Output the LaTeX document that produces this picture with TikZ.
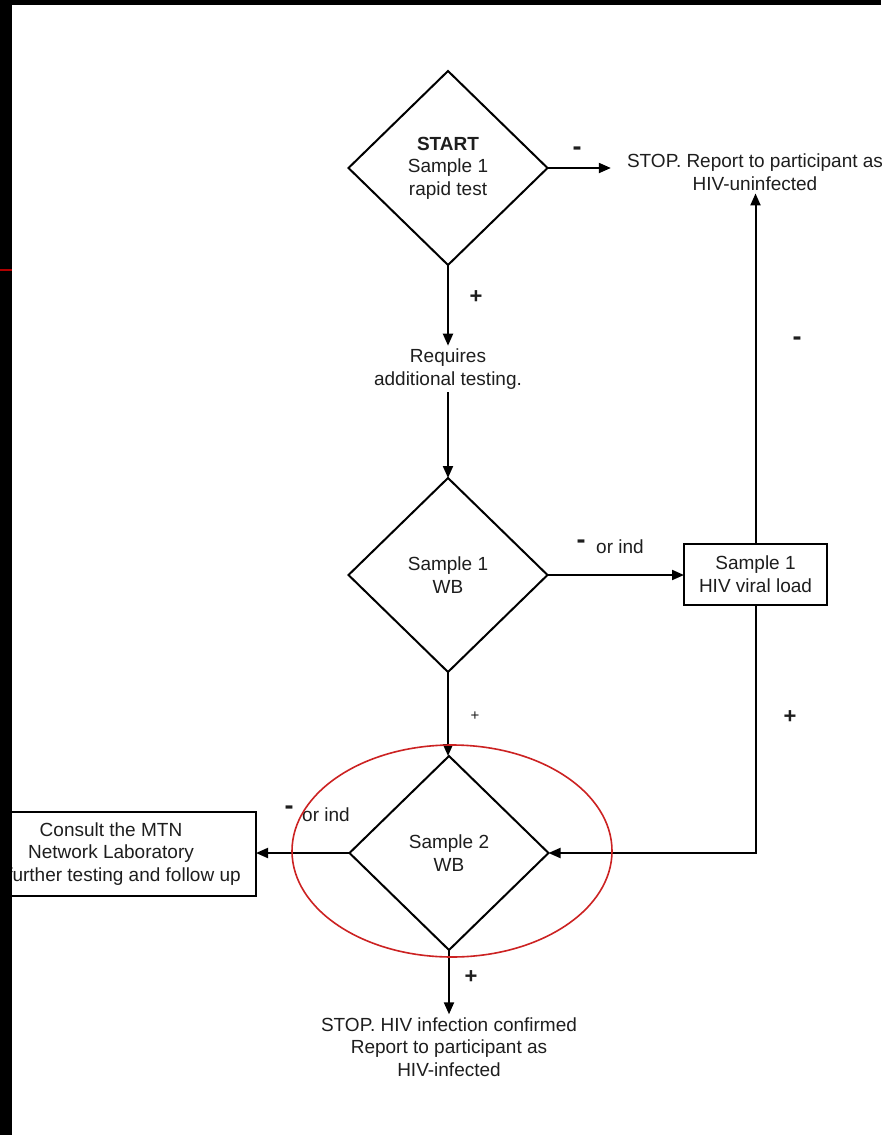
\documentclass[tikz,border=0pt]{standalone}
\usepackage{fontspec}
\setmainfont{Liberation Sans}
\usetikzlibrary{shapes.geometric,arrows.meta}
\definecolor{ovalred}{HTML}{CC2222}
\definecolor{edgered}{HTML}{B00000}
\definecolor{ink}{HTML}{1E1E1E}
\begin{document}
\begin{tikzpicture}[x=1pt,y=-1pt,
  every node/.style={font=\fontsize{19}{22.5}\selectfont, inner sep=3pt, text=ink},
  dec/.style={draw, diamond, line width=2pt, minimum width=199pt, minimum height=194pt, inner sep=0pt, outer sep=0pt, align=center},
  box/.style={draw, rectangle, line width=2pt, outer sep=0pt, inner sep=0pt},
  txt/.style={align=center},
  arr/.style={line width=2pt, -{Triangle[length=12pt,width=10pt]}},
  ln/.style={line width=2pt},
  sgnplus/.style={font=\fontsize{22}{24}\selectfont\bfseries, inner sep=0pt},
  sgnminus/.style={font=\fontsize{27}{28}\selectfont\bfseries, inner sep=0pt},
  sgnsmall/.style={font=\fontsize{15}{18}\selectfont, inner sep=0pt}
]
\useasboundingbox (0,0) rectangle (881,1135);
\fill[white] (0,0) rectangle (881,1135);

% nodes
\node[dec] (d1) at (448,168) {\textbf{START}\\Sample 1\\rapid test};
\node[txt] (stop1) at (755,172) {STOP. Report to participant as\\HIV-uninfected};
\node[txt] (req) at (448,369) {Requires\\additional testing.};
\node[dec] (d2) at (448,575) {Sample 1\\WB};
\node[box, minimum width=143pt, minimum height=61pt, align=center] (vl) at (755.5,574) {Sample 1\\HIV viral load};
\node[dec] (d3) at (449,853) {Sample 2\\WB};
\node[box, minimum width=250pt, minimum height=84pt] (consult) at (131,854) {};
\node[txt] (consulttxt) at (111,854) {Consult the MTN\\Network Laboratory\\further testing and follow up\hspace*{-26pt}};
\node[txt] (stop2) at (449,1047) {STOP. HIV infection confirmed\\Report to participant as\\HIV-infected};
\coordinate (corner) at (vl.south |- d3.east);

% connectors
\draw[arr] (d1.east) -- ([xshift=-13pt]stop1.west |- d1.east);
\draw[arr] (vl.north) -- (vl.north |- stop1.south);
\draw[arr] (d1.south) -- (req.north);
\draw[arr] (req.south) -- (d2.north);
\draw[arr] (d2.east) -- (d2.east -| vl.west);
\draw[arr] (d2.south) -- (d2.south |- d3.north);
\draw[arr] (vl.south) -- (corner) -- (d3.east);
\draw[arr] (d3.west) -- (d3.west -| consult.east);
\draw[arr] (d3.south) -- (d3.south |- stop2.north);

% signs
\node[sgnminus] (s1) at (577,151) {-};
\node[sgnplus] (s2) at (476,297) {+};
\node[sgnminus] (s3) at (797,341) {-};
\node[sgnminus] (s4) at (581,544) {-};
\node[anchor=west, inner sep=0pt] (s4t) at (596,547) {or ind};
\node[sgnsmall] (s5) at (475,716) {+};
\node[sgnplus] (s6) at (790,717) {+};
\node[sgnminus] (s7) at (289,810) {-};
\node[anchor=west, inner sep=0pt] (s7t) at (302,815) {or ind};
\node[sgnplus] (s8) at (471,977) {+};

% red oval
\draw[ovalred, line width=1.6pt] (452,851) ellipse [x radius=160, y radius=106];

% frame bands
\fill[black] (0,0) rectangle (881,5);
\fill[black] (0,0) rectangle (12,1135);
\draw[edgered, line width=2.2pt] (0,270) -- (12,270);
\end{tikzpicture}
\end{document}
